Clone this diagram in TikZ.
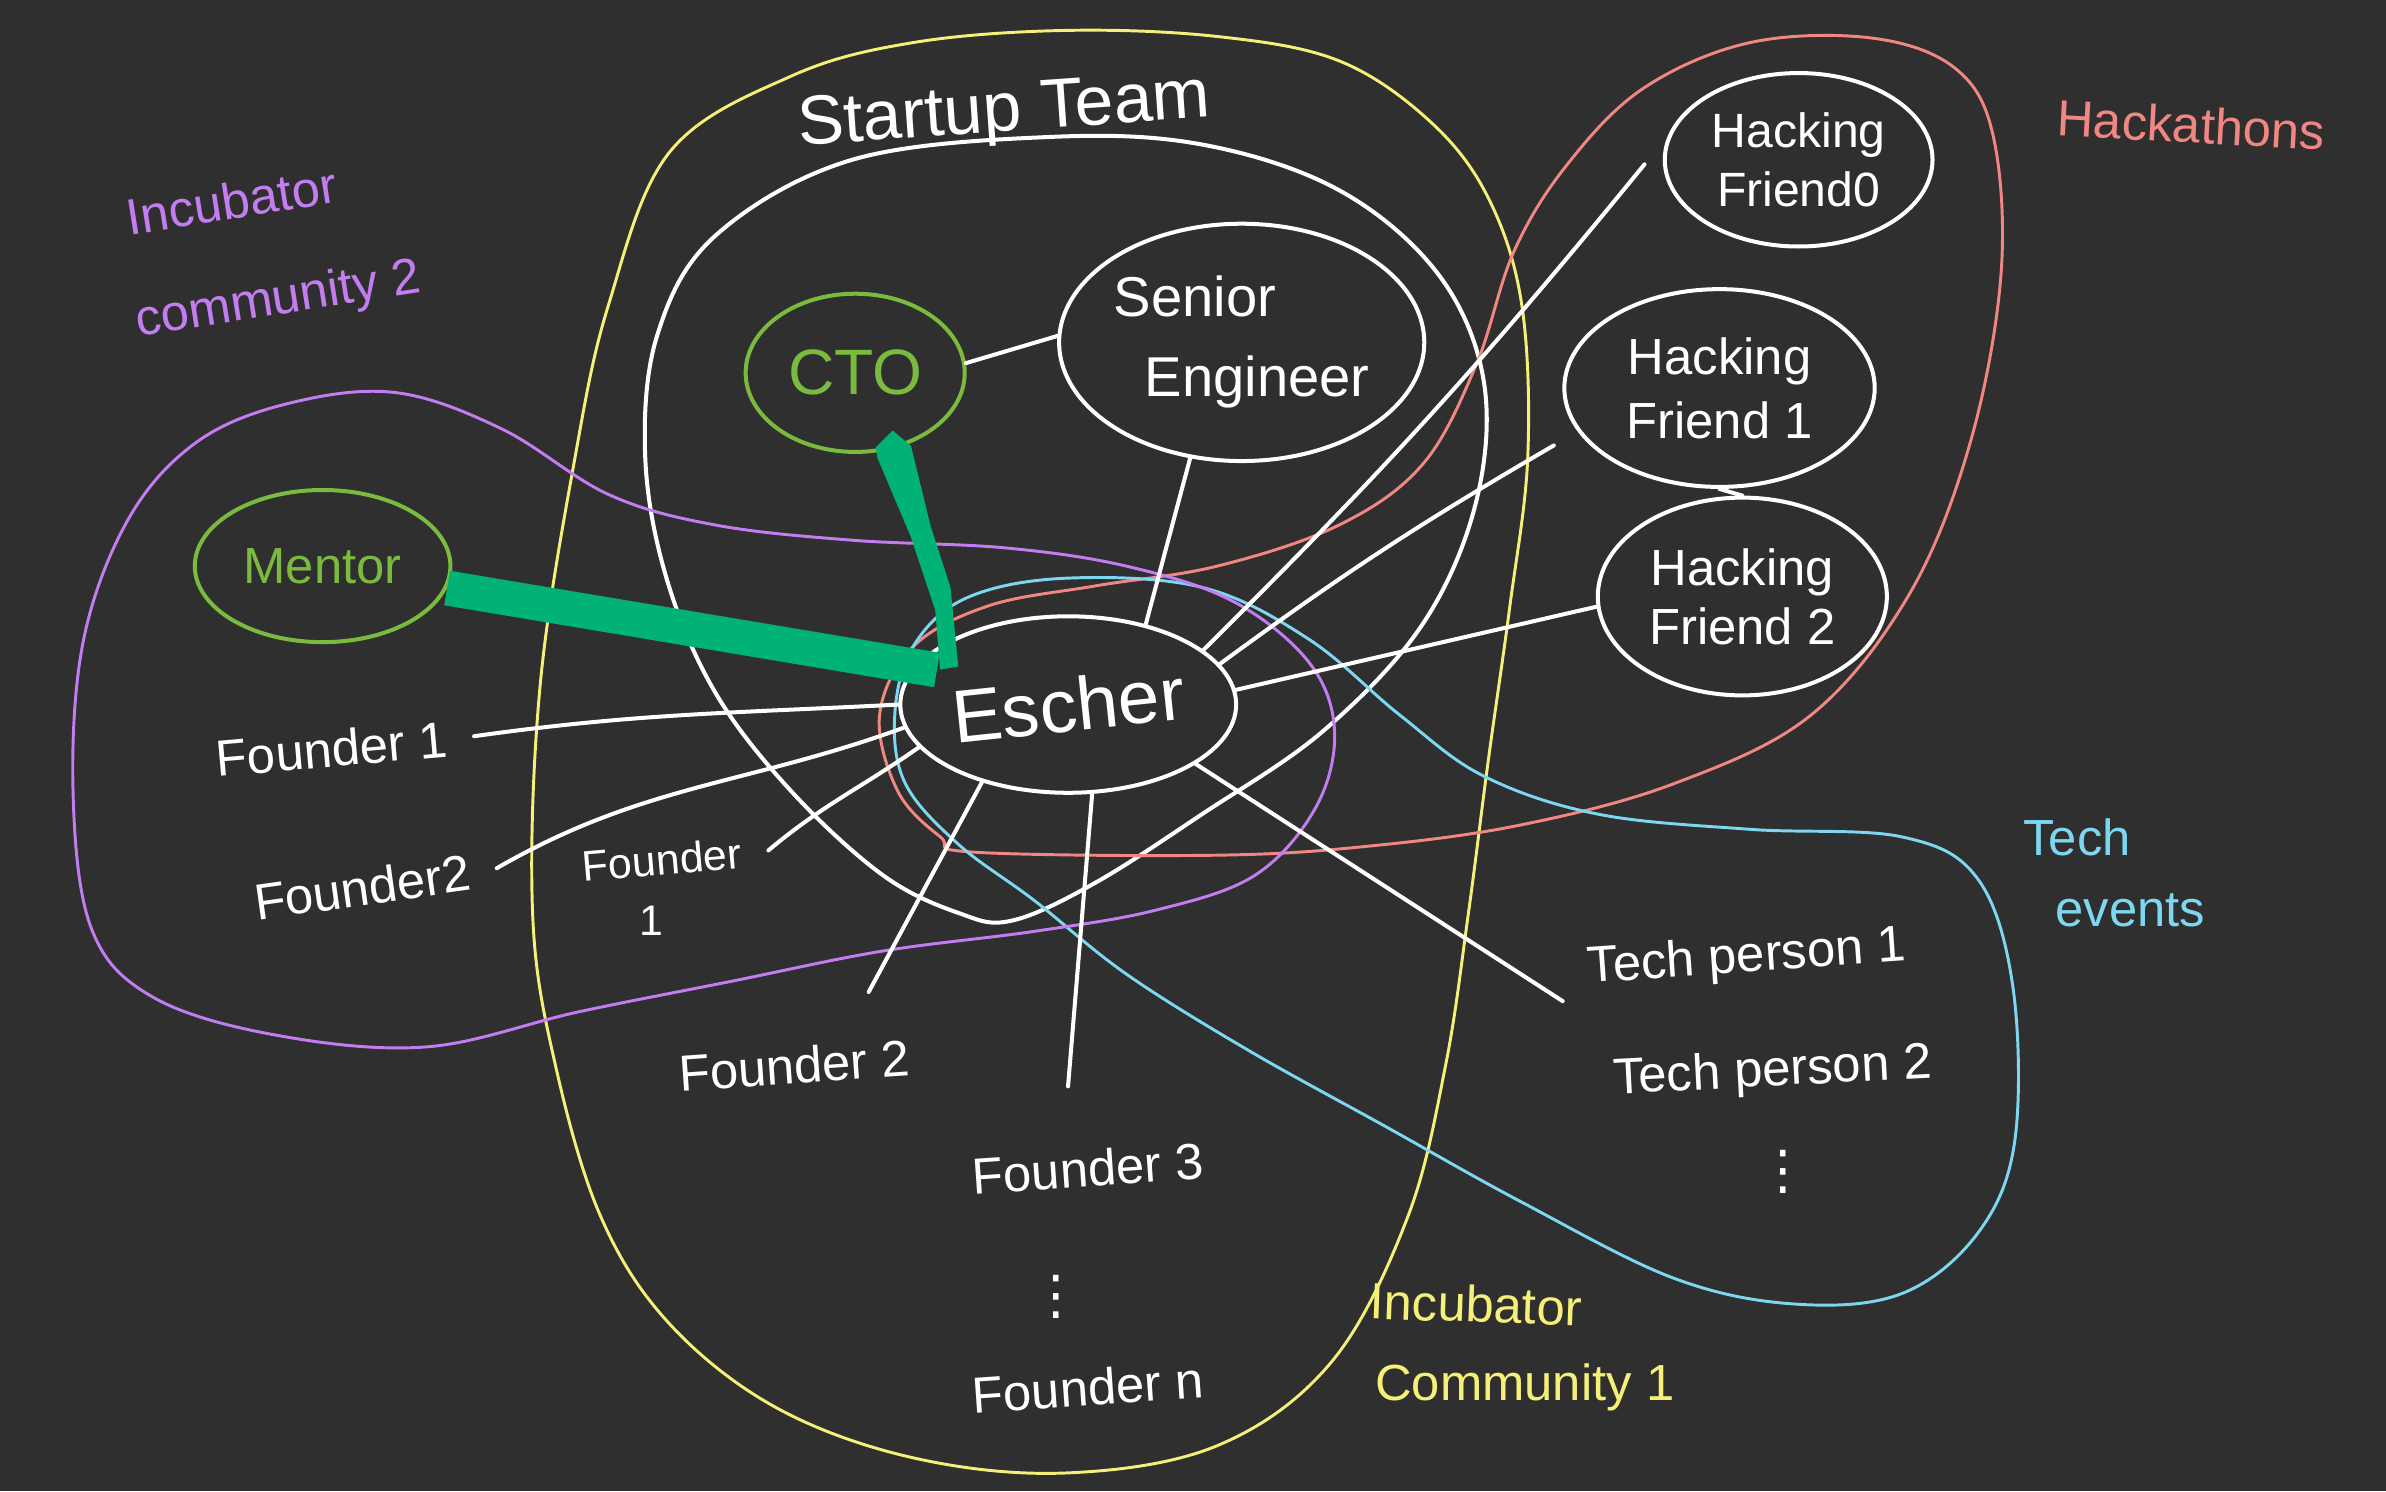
\documentclass[tikz,border=0pt]{standalone}
\usepackage{fontspec}
\setmainfont{Liberation Sans}
\newfontfamily\djv{DejaVu Sans}
\usetikzlibrary{shapes.geometric,calc}
\definecolor{bg}{RGB}{47,47,47}
\definecolor{ylw}{RGB}{245,240,120}
\definecolor{sal}{RGB}{240,135,130}
\definecolor{cyn}{RGB}{125,215,240}
\definecolor{pur}{RGB}{195,125,240}
\definecolor{grn}{RGB}{122,186,62}
\definecolor{emer}{RGB}{0,178,118}
\begin{document}
\begin{tikzpicture}[x=0.02cm,y=-0.02cm,
  hand/.style={line width=1.1pt, line join=round},
  wline/.style={white, line width=1.5pt, line cap=round},
  bubble/.style={ellipse, draw=white, line width=1.5pt, text=white, inner sep=0pt,
                 font=\fontsize{19}{23}\selectfont},
  lbl/.style={text=white, inner xsep=0.35cm, inner ysep=2pt, font=\fontsize{19}{23}\selectfont},
  grpcap/.style={inner sep=1pt, font=\fontsize{19}{23}\selectfont},
  dotsnode/.style={text=white, inner sep=0pt, font=\djv\fontsize{20}{24}\selectfont}]
\fill[bg] (0,0) rectangle (1568,980);
\useasboundingbox (0,0) rectangle (1568,980);

% ---------- group loops ----------
\draw[hand, ylw] plot[smooth cycle, tension=0.6] coordinates {
 (700,20) (800,24) (880,40) (940,80) (978,130) (1000,200) (1004,300) (992,400)
 (978,500) (965,600) (950,700) (925,800) (875,895) (800,950) (700,968) (600,958)
 (510,925) (440,870) (395,800) (365,700) (350,600) (355,450) (378,300) (400,200)
 (440,100) (520,50) (600,28)};
\draw[hand, white, line width=1.5pt] plot[smooth cycle, tension=0.6] coordinates {
 (690,90) (790,95) (880,125) (945,180) (975,250) (970,330) (935,410) (870,480)
 (790,535) (720,580) (665,605) (630,600) (580,575) (520,520) (470,455) (438,380)
 (424,300) (432,220) (470,155) (560,105)};
\draw[hand, sal] plot[smooth cycle, tension=0.6] coordinates {
 (640,560) (800,562) (900,556) (1000,542) (1100,515) (1190,470) (1255,390)
 (1295,290) (1315,180) (1310,90) (1285,45) (1230,25) (1150,28) (1080,58)
 (1030,108) (995,165) (970,240) (935,305) (880,345) (800,372) (720,385)
 (650,398) (600,425) (578,470) (590,520) (618,550)};
\draw[hand, cyn] plot[smooth cycle, tension=0.6] coordinates {
 (700,380) (790,386) (860,420) (920,470) (975,510) (1050,535) (1150,545)
 (1250,550) (1300,578) (1323,650) (1324,750) (1300,810) (1250,850) (1180,857)
 (1100,840) (1000,790) (910,740) (820,690) (740,640) (680,592) (630,555)
 (595,515) (588,470) (600,425) (635,393)};
\draw[hand, pur] plot[smooth cycle, tension=0.6] coordinates {
 (260,258) (330,282) (400,325) (470,345) (560,355) (660,360) (740,372) (810,395)
 (860,435) (877,480) (865,530) (825,575) (760,598) (680,612) (580,625) (480,645)
 (380,665) (280,688) (180,680) (100,655) (60,610) (48,520) (55,420) (85,340)
 (130,290) (190,265)};

% ---------- bubbles ----------
\node[bubble, draw=grn, text=grn, minimum width=2.88cm, minimum height=2.08cm,
      font=\fontsize{24}{28}\selectfont] (cto) at (562,245) {CTO};
\node[bubble, minimum width=4.8cm, minimum height=3.12cm, align=left,
      font=\fontsize{21}{30}\selectfont] (se) at (816,225) {Senior\\\hspace*{0.55em}Engineer};
\node[bubble, minimum width=4.08cm, minimum height=2.32cm,
      font=\fontsize{28}{32}\selectfont] (escher) at (702,463) {\rotatebox{6}{Escher}};
\node[bubble, draw=grn, text=grn, minimum width=3.36cm, minimum height=2.0cm] (mentor) at (212,372) {Mentor};
\node[bubble, minimum width=3.52cm, minimum height=2.28cm, align=center,
      font=\fontsize{18}{22}\selectfont] (hf0) at (1182,105) {Hacking\\Friend0};
\node[bubble, minimum width=4.08cm, minimum height=2.6cm, align=center,
      font=\fontsize{19}{24}\selectfont] (hf1) at (1130,255) {Hacking\\Friend 1};
\node[bubble, minimum width=3.8cm, minimum height=2.6cm, align=center,
      font=\fontsize{19}{22}\selectfont] (hf2) at (1145,392) {Hacking\\Friend 2};

% ---------- people labels ----------
\node[lbl, rotate=5] (f1) at (218,492) {Founder 1};
\node[lbl, rotate=8] (f2) at (238,583) {Founder2};
\node[lbl, rotate=5, font=\fontsize{16}{20}\selectfont] (fm) at (435,565) {Founder};
\node[lbl, font=\fontsize{16}{20}\selectfont] (fm1) at (428,605) {1};
\node[lbl, rotate=4] (f2b) at (522,700) {Founder 2};
\node[lbl, rotate=4] (f3) at (715,768) {Founder 3};
\node[dotsnode] (fdots) at (694,852) {⋮};
\node[lbl, rotate=4] (fn) at (715,912) {Founder n};
\node[lbl, rotate=4] (tp1) at (1148,630) {Tech person 1};
\node[lbl, rotate=3] (tp2) at (1165,705) {Tech person 2};
\node[dotsnode] (tdots) at (1172,770) {⋮};

% ---------- group captions ----------
\node[grpcap, text=pur, rotate=9] (ic2a) at (152,132) {Incubator};
\node[grpcap, text=pur, rotate=9] (ic2b) at (183,198) {community 2};
\node[grpcap, text=white, rotate=4, font=\fontsize{26}{30}\selectfont] (team) at (660,75) {Startup Team};
\node[grpcap, text=sal, rotate=-3] (hack) at (1440,82) {Hackathons};
\node[grpcap, text=cyn] (teA) at (1365,550) {Tech};
\node[grpcap, text=cyn] (teB) at (1400,598) {events};
\node[grpcap, text=ylw, rotate=-2] (ic1a) at (970,857) {Incubator};
\node[grpcap, text=ylw] (ic1b) at (1002,912) {Community 1};

% ---------- connectors ----------
\draw[wline] (cto.5) -- (se.178);
\draw[wline] (se.246) -- (escher.46);
\draw[wline] (f1.east) to[out=8,in=183] (escher.180);
\draw[wline] (f2.east) to[out=30,in=200] (escher.188);
\draw[wline] (fm.east) to[out=40,in=215] (escher.196);
\draw[wline] (escher.222) -- ($(f2b.north)+(50,-32)$);
\draw[wline] (escher.285) -- ($(f3.north)+(-12,-38)$);
\draw[wline] (escher.335) -- (tp1.south west);
\draw[wline] (escher.5) -- (hf2.184);
\draw[wline] (escher.15) to[bend left=3] ($(hf1.200)+(-19,5)$);
\draw[wline] (escher.22) to[bend right=3] ($(hf0.west)+(-12,3)$);
\draw[wline] (hf1.south) -- (hf2.north);

% ---------- green emphasis bars ----------
\draw[emer, line width=0.46cm, shorten >=-0.3cm] (mentor.350) -- (escher.166);
\coordinate (gA) at (cto.293);
\coordinate (gB) at (escher.162);
\fill[emer] ($(gA)+(-8,-2)$) -- ($(gA)+(3,-13)$) -- ($(gA)+(15,-3)$) -- ($(gA)+(28,50)$)
  -- ($(gA)+(41,90)$) -- ($(gB)+(23,6)$) -- ($(gB)+(11,8)$) -- ($(gA)+(31,105)$)
  -- ($(gA)+(15,57)$) -- ($(gA)+(-7,5)$) -- cycle;
\end{tikzpicture}
\end{document}
